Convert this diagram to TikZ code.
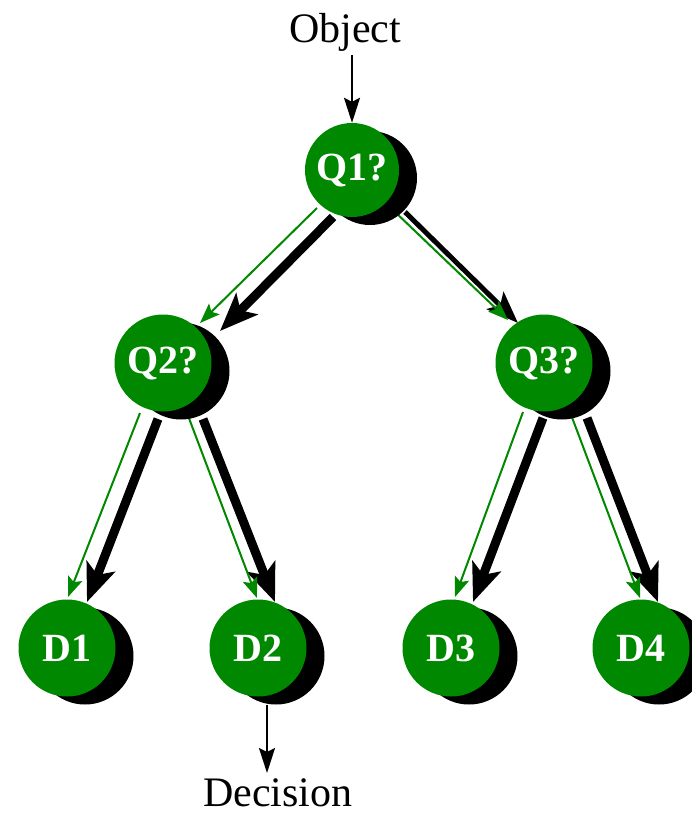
\documentclass[tikz,border=0pt]{standalone}
\usepackage{fontspec}
\setmainfont{Liberation Serif}
\usetikzlibrary{arrows.meta,calc}
\definecolor{nodegreen}{RGB}{0,136,0}
\pgfdeclarelayer{bg}
\pgfsetlayers{bg,main}
\begin{document}
\begin{tikzpicture}[x=1pt,y=-1pt,
  shadowdisc/.style={circle,fill=black,minimum size=#1,inner sep=0pt},
  shadowdisc/.default=97pt,
  greendisc/.style={circle,fill=nodegreen,minimum size=#1,inner sep=0pt,text=white,
    font=\fontsize{40}{42}\selectfont\bfseries},
  greendisc/.default=97pt,
  blackarrow/.style={draw=black,line width=9pt,-{Stealth[length=38pt,width=30pt,inset=9pt]}},
  thinblackarrow/.style={draw=black,line width=5pt,-{Stealth[length=32pt,width=24pt,inset=7pt]}},
  greenarrow/.style={draw=nodegreen,line width=2pt,-{Stealth[length=20pt,width=15pt,inset=4pt]}},
  ioarrow/.style={draw=black,line width=2pt,-{Stealth[length=25pt,width=16pt,inset=4pt]}},
  iotext/.style={font=\fontsize{42}{46}\selectfont,inner sep=0pt,anchor=base}
]
\useasboundingbox (0,0) rectangle (691,816);

% shadows
\node[shadowdisc=94pt] (Q1s) at (370,178) {};
\node[shadowdisc] (Q2s) at (181,371) {};
\node[shadowdisc] (Q3s) at (562,371) {};
\node[shadowdisc] (D1s) at (85,656) {};
\node[shadowdisc] (D2s) at (276,656) {};
\node[shadowdisc] (D3s) at (469,656) {};
\node[shadowdisc] (D4s) at (659,656) {};

% green nodes
\node[greendisc=94pt] (Q1) at (352,170) {Q1?};
\node[greendisc] (Q2) at (163,363) {Q2?};
\node[greendisc] (Q3) at (544,363) {Q3?};
\node[greendisc] (D1) at (67,648) {D1};
\node[greendisc] (D2) at (258,648) {D2};
\node[greendisc] (D3) at (451,648) {D3};
\node[greendisc] (D4) at (641,648) {D4};

% input / output
\node[iotext] (obj) at (345,43) {Object};
\node[iotext] (dec) at (278,806) {Decision};
\coordinate (decin) at (267,773);

\begin{pgfonlayer}{bg}
  % Q1 -> Q2
  \draw[blackarrow] ($(Q1)+(-19,47)$) -- ($(Q2)+(57,-32)$);
  \draw[greenarrow] ($(Q1)+(-35,38)$) -- ($(Q2)+(37,-40)$);
  % Q1 -> Q3
  \draw[thinblackarrow] ($(Q1)+(53,42)$) -- ($(Q3)+(-26,-40)$);
  \draw[greenarrow] ($(Q1)+(41,40)$) -- ($(Q3)+(-36,-43)$);
  % Q2 -> D1
  \draw[blackarrow] ($(Q2)+(-5,56)$) -- ($(D1)+(20,-46)$);
  \draw[greenarrow] ($(Q2)+(-23,50)$) -- ($(D1)+(1,-51)$);
  % Q2 -> D2
  \draw[blackarrow] ($(Q2)+(40,56)$) -- ($(D2)+(17,-46)$);
  \draw[greenarrow] ($(Q2)+(24,50)$) -- ($(D2)+(-1,-50)$);
  % Q3 -> D3
  \draw[blackarrow] ($(Q3)+(-1,55)$) -- ($(D3)+(22,-46)$);
  \draw[greenarrow] ($(Q3)+(-21,49)$) -- ($(D3)+(4,-51)$);
  % Q3 -> D4
  \draw[blackarrow] ($(Q3)+(43,55)$) -- ($(D4)+(17,-46)$);
  \draw[greenarrow] ($(Q3)+(26,49)$) -- ($(D4)+(-1,-50)$);
\end{pgfonlayer}

\draw[ioarrow] ($(obj.south -| Q1)+(0,3)$) -- (Q1.north);
\draw[ioarrow] (D2s.south -| decin) -- (decin);
\end{tikzpicture}
\end{document}
